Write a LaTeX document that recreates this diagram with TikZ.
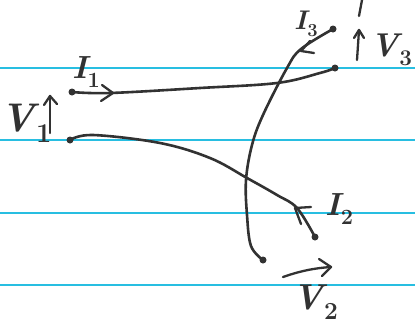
\documentclass[tikz,border=0pt]{standalone}
\usepackage{fontspec}
\usetikzlibrary{arrows.meta}
\definecolor{rulecol}{RGB}{40,190,225}
\definecolor{ink}{RGB}{50,50,50}
\newcommand{\hlab}[3]{\fontsize{#1}{#1}\selectfont\bfseries\itshape #2\kern0.02em\raisebox{-0.28em}{\fontsize{0.68\dimexpr#1pt\relax}{1pt}\selectfont\upshape #3}}
\begin{document}
\begin{tikzpicture}[x=1pt,y=-1pt,
  rule/.style={draw=rulecol,line width=1.8pt},
  wire/.style={draw=ink,line width=2.6pt,line cap=round,line join=round},
  chev/.style={draw=ink,line width=2.3pt,line cap=round,line join=round},
  dot/.style={circle,fill=ink,inner sep=0pt,minimum size=7pt},
  lab/.style={text=ink,inner sep=0pt}]
\useasboundingbox (0,0) rectangle (415,327);
\fill[white] (0,0) rectangle (415,327);
% ruled paper lines
\foreach \yy in {68,140,213,285} \draw[rule] (0,\yy) -- (415,\yy);
% terminals
\node[dot] (a1) at (72,92) {};
\node[dot] (b1) at (335,68) {};
\node[dot] (a2) at (70,140) {};
\node[dot] (b2) at (315,237) {};
\node[dot] (a3) at (263,260) {};
\node[dot] (b3) at (333,29) {};
% wires
\draw[wire] plot[smooth,tension=0.6] coordinates {(a1.center) (110,93) (200,88) (277,83) (320,73) (b1.center)};
\draw[wire] plot[smooth,tension=0.6] coordinates {(a2.center) (93,135) (160,143) (210,158) (247,178) (277,195) (297,208) (b2.center)};
\draw[wire] plot[smooth,tension=0.6] coordinates {(b3.center) (301,49) (287,68) (263,115) (252,145) (246,180) (247,215) (251,246) (a3.center)};
% current chevrons
\draw[chev] (102,85) -- (113,93) -- (101,101);
\draw[chev] (311,207) -- (295,208) -- (301,224);
\draw[chev] (310,41) -- (301,51) -- (314,53);
% voltage arrows
\coordinate (v1s) at (50,133); \coordinate (v1e) at (50,96);
\draw[chev] (v1s) -- (v1e);
\draw[chev] (44,105) -- (50,96) -- (57,104);
\coordinate (v3s) at (357,60); \coordinate (v3e) at (359,30);
\draw[chev] (v3s) -- (v3e);
\draw[chev] (354,38) -- (359,30) -- (364,38);
\coordinate (t1) at (362,0); \coordinate (t2) at (359,16);
\draw[chev] (t1) -- (t2);
\coordinate (v2s) at (283,277); \coordinate (v2e) at (331,267);
\draw[chev] (v2s) .. controls (300,271) and (315,268) .. (v2e);
\draw[chev] (319,259) -- (331,267) -- (322,276);
% labels
\node[lab] (l1) at (86,72) {\hlab{32}{I}{1}};
\node[lab] (l2) at (26,123) {\hlab{40}{V}{1}};
\node[lab] (l3) at (306,24) {\hlab{27}{I}{3}};
\node[lab] (l4) at (391,50) {\hlab{33}{V}{3}};
\node[lab] (l5) at (339,209) {\hlab{32}{I}{2}};
\node[lab] (l6) at (315,302) {\hlab{36}{V}{2}};
\end{tikzpicture}
\end{document}
